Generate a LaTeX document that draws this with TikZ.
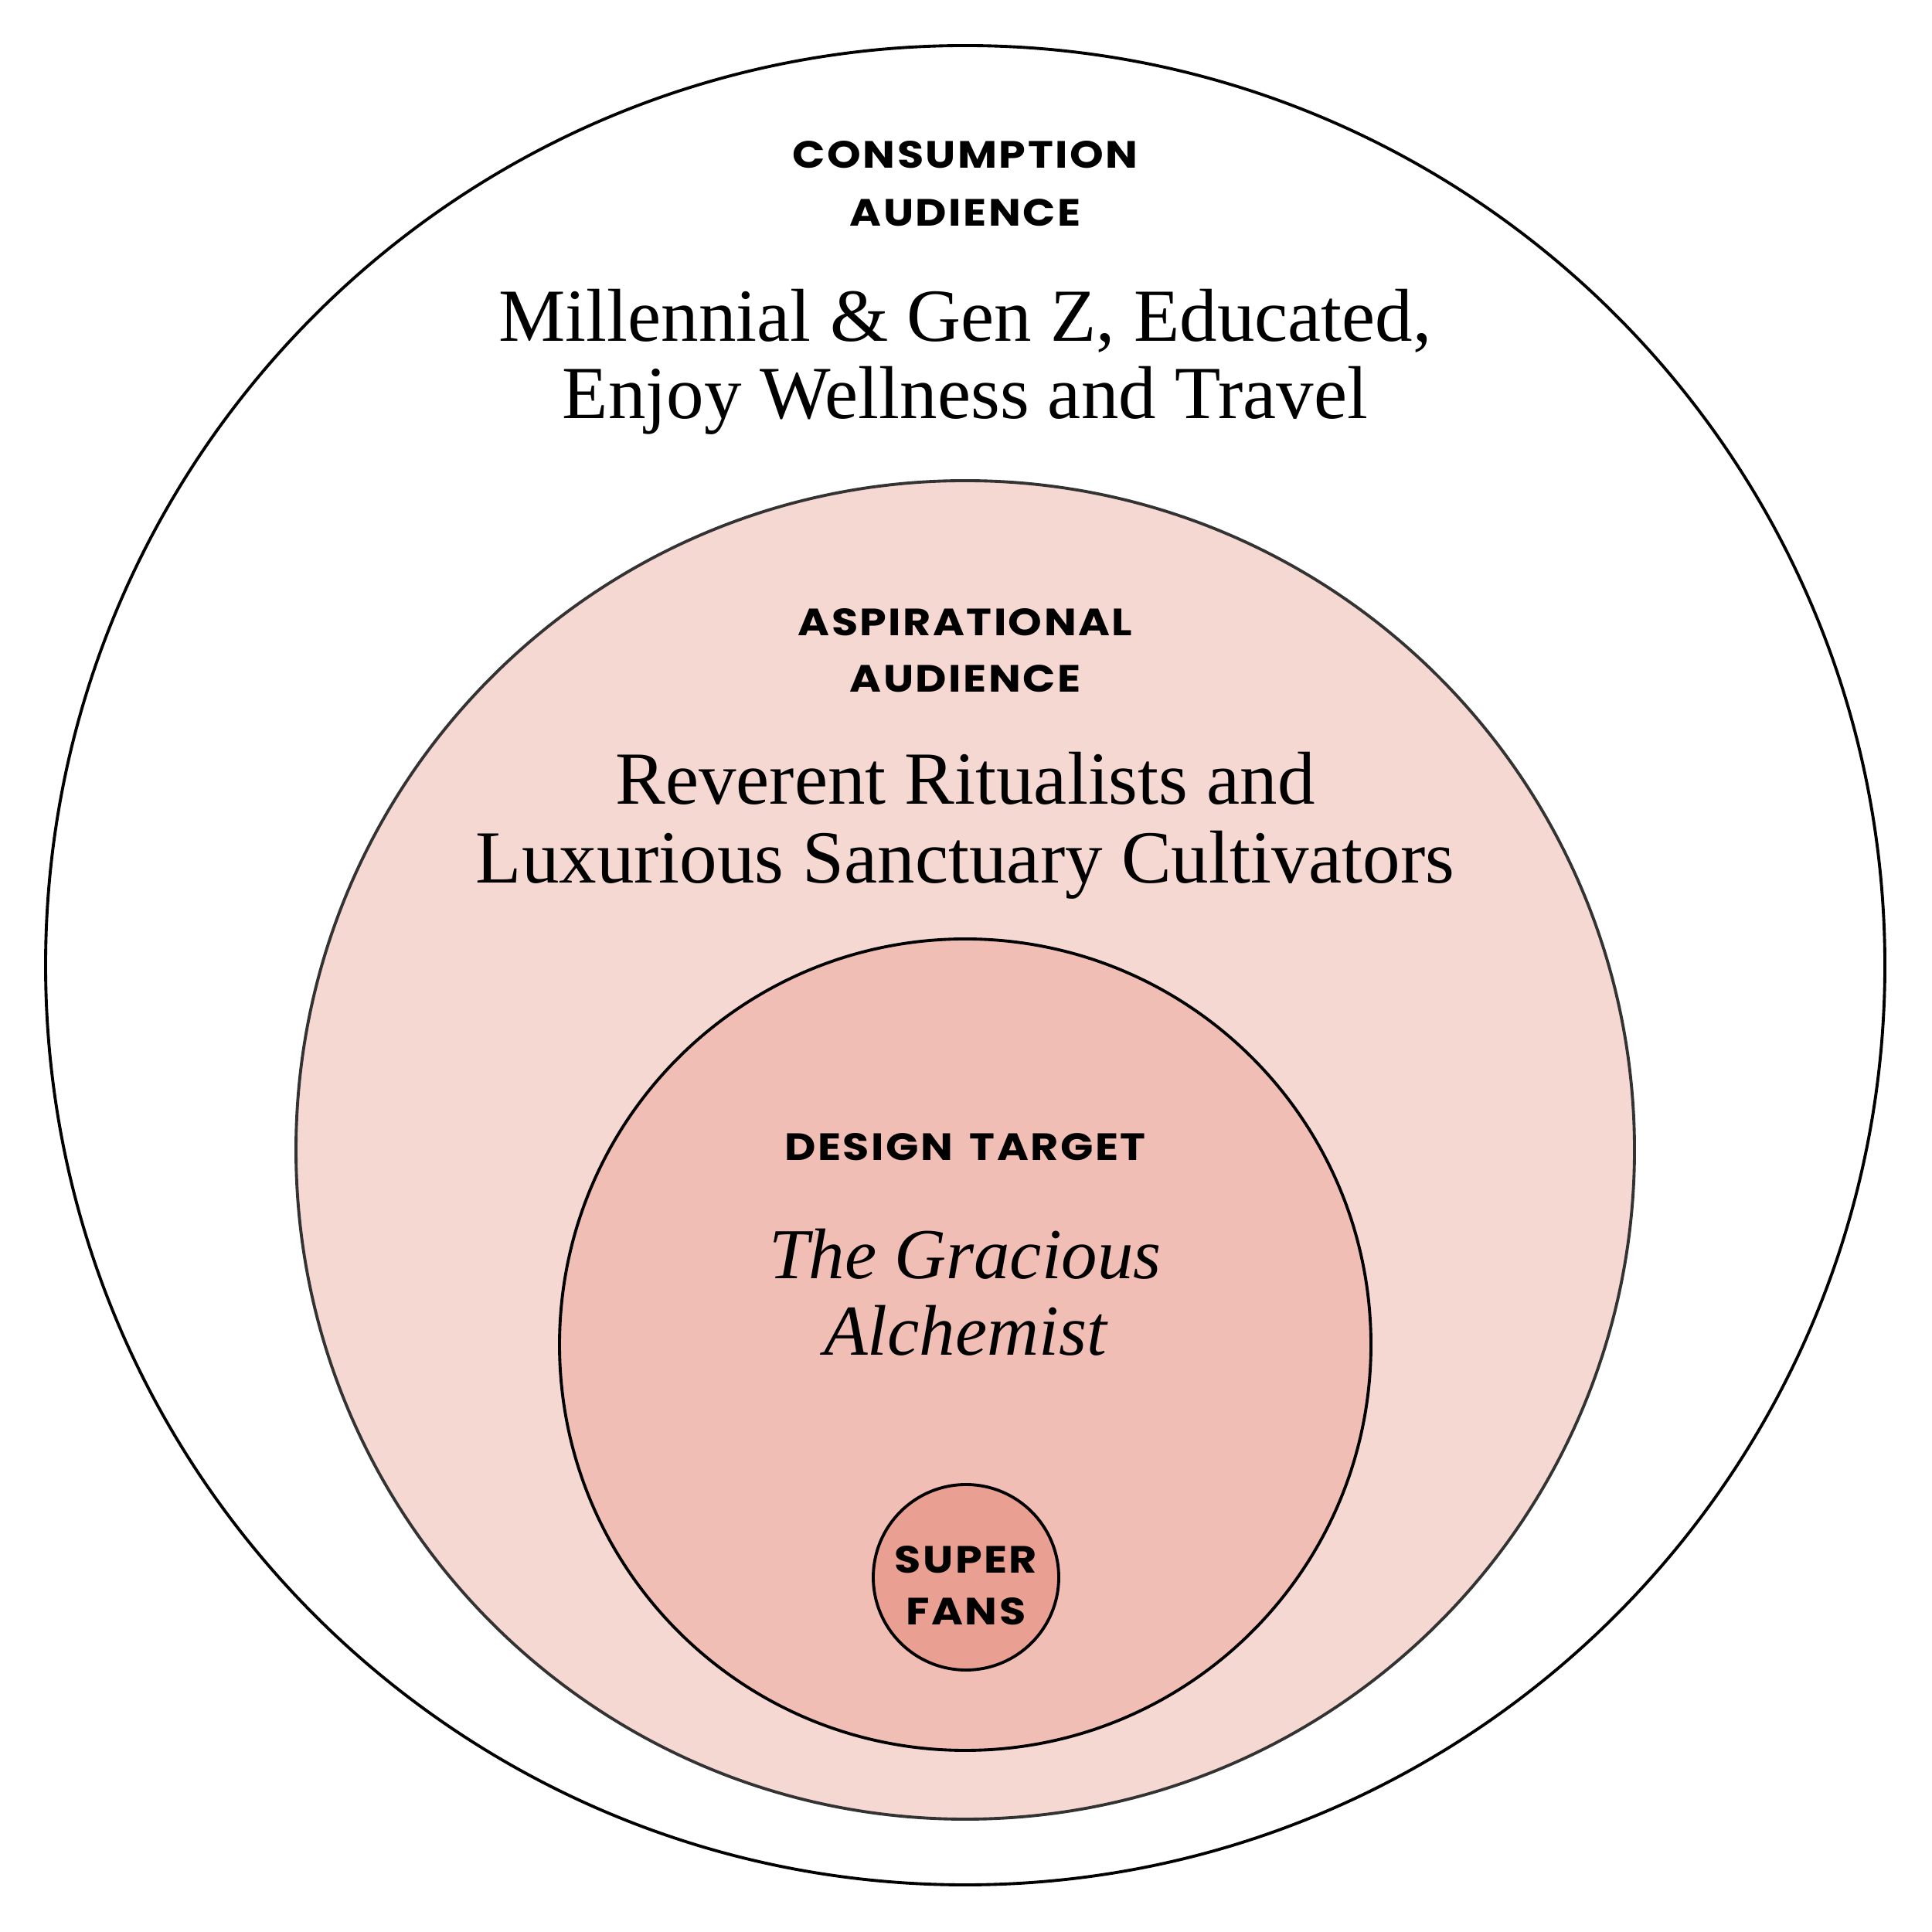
\documentclass[tikz,border=0pt]{standalone}
\usepackage{fontspec}
\setmainfont{Liberation Serif}
\newfontfamily\hdrfont{Poppins}[LetterSpace=5,FakeStretch=1.13]
\definecolor{pinkA}{RGB}{246,216,210}
\definecolor{pinkB}{RGB}{240,190,180}
\definecolor{pinkC}{RGB}{233,160,146}
\definecolor{ringgray}{RGB}{51,51,51}
\tikzset{
  ring/.style={circle, draw=black, line width=1.1pt, inner sep=0pt},
  hdr/.style={anchor=base, inner sep=0pt, font=\hdrfont\bfseries\fontsize{14.0}{17}\selectfont},
  body/.style={anchor=base, inner sep=0pt, font=\fontsize{27.6}{30}\selectfont},
  bodyit/.style={anchor=base, inner sep=0pt, font=\itshape\fontsize{26.4}{30}\selectfont},
}
\begin{document}
\begin{tikzpicture}
\useasboundingbox[fill=white] (0,0) rectangle (25,25);
\node[ring, minimum size=23.80cm] (outer) at (12.49,12.51) {};
\node[ring, draw=ringgray, fill=pinkA, minimum size=17.32cm] (middle) at (12.49,10.12) {};
\node[ring, fill=pinkB, minimum size=10.50cm] (inner) at (12.49,7.60) {};
\node[ring, fill=pinkC, minimum size=2.40cm] (small) at (12.50,4.59) {};
\node[hdr] (cons1) at (12.49,22.82) {CONSUMPTION};
\node[hdr] (cons2) at (12.49,22.07) {AUDIENCE};
\node[body] (mill1) at (12.49,20.58) {Millennial \& Gen Z, Educated,};
\node[body] (mill2) at (12.49,19.58) {Enjoy Wellness and Travel};
\node[hdr] (asp1) at (12.49,16.77) {ASPIRATIONAL};
\node[hdr] (asp2) at (12.49,16.04) {AUDIENCE};
\node[body] (rev1) at (12.49,14.59) {Reverent Ritualists and};
\node[body] (rev2) at (12.49,13.57) {Luxurious Sanctuary Cultivators};
\node[hdr] (des) at (12.49,9.98) {DESIGN\hspace{0.45em}TARGET};
\node[bodyit] (gr1) at (12.49,8.45) {The Gracious};
\node[bodyit] (gr2) at (12.49,7.46) {Alchemist};
\node[hdr] (sup1) at (12.50,4.64) {SUPER};
\node[hdr] (sup2) at (12.50,3.97) {FANS};
\end{tikzpicture}
\end{document}
